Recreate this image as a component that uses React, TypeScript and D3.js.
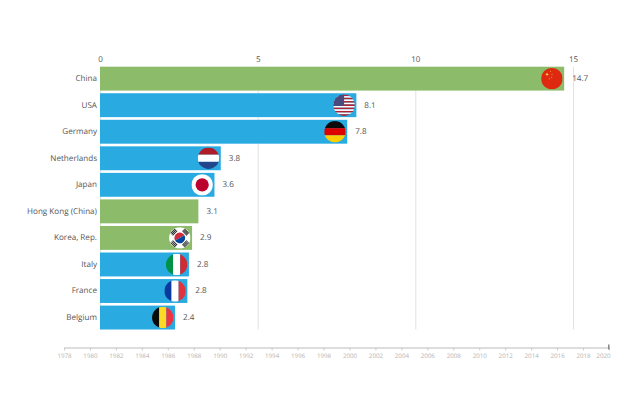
// App.tsx
import React, { useRef, useEffect } from 'react';
import * as d3 from 'd3';

const countries = ['China', 'USA', 'Germany', 'Netherlands', 'Japan', 'Hong Kong (China)', 'Korea, Rep.', 'Italy', 'France', 'Belgium'];
const values = [14.72, 8.13, 7.84, 3.83, 3.63, 3.12, 2.92, 2.82, 2.77, 2.38];
const valueLabels = ['14.7', '8.1', '7.8', '3.8', '3.6', '3.1', '2.9', '2.8', '2.8', '2.4'];
const asia = ['China', 'Hong Kong (China)', 'Korea, Rep.'];
const xTicks = [0, 5, 10, 15];
const years = d3.range(1978, 2021, 2);

const GREEN = '#8cbb69';
const BLUE = '#29abe2';
const TEXT = '#555';

// Plain striped flags, top to bottom or left to right
const hStripes: Record<string, string[]> = {
    Germany: ['#0b0b0b', '#dd0000', '#ffce00'],
    Netherlands: ['#ae1c28', '#ffffff', '#21468b'],
};
const vStripes: Record<string, string[]> = {
    Italy: ['#009246', '#ffffff', '#ce2b37'],
    France: ['#0a3a9e', '#ffffff', '#e1333f'],
    Belgium: ['#0b0b0b', '#fdda24', '#ef3340'],
};

const W = 640;
const H = 410;
const margin = { top: 66.7, right: 67, bottom: 80.5, left: 100 };
const R = 10.7;

function drawFlag(g: d3.Selection<SVGGElement, unknown, null, undefined>, name: string) {
    const unit = d3.scaleLinear().domain([0, 1]).range([-R, R]);
    const size = 2 * R;
    const rect = (x0: number, y0: number, x1: number, y1: number, fill: string) =>
        g.append('rect')
            .attr('x', unit(x0)).attr('y', unit(y0))
            .attr('width', (x1 - x0) * size).attr('height', (y1 - y0) * size)
            .attr('fill', fill);

    if (hStripes[name]) {
        hStripes[name].forEach((c, i) => rect(0, i / 3, 1, (i + 1) / 3, c));
    } else if (vStripes[name]) {
        vStripes[name].forEach((c, i) => rect(i / 3, 0, (i + 1) / 3, 1, c));
    } else if (name === 'China') {
        rect(0, 0, 1, 1, '#de2910');
        g.append('g').selectAll('circle')
            .data([[-0.45, -0.4, 1.2], [-0.12, -0.68, 0.5], [0.02, -0.42, 0.5], [-0.02, -0.12, 0.5], [-0.25, 0.02, 0.5]])
            .join('circle')
            .attr('cx', d => d[0] * R).attr('cy', d => d[1] * R).attr('r', d => d[2])
            .attr('fill', '#f6c83c');
    } else if (name === 'USA') {
        d3.range(13).forEach(i => rect(0, i / 13, 1, (i + 1) / 13, i % 2 ? '#ffffff' : '#b22234'));
        rect(0, 0, 0.5, 7 / 13, '#4a4a7c');
    } else if (name === 'Japan') {
        rect(0, 0, 1, 1, '#ffffff');
        g.append('circle').attr('r', R * 0.62).attr('fill', '#bc002d');
    } else if (name === 'Korea, Rep.') {
        rect(0, 0, 1, 1, '#ffffff');
        g.append('path')
            .attr('d', d3.arc()({ innerRadius: 0, outerRadius: R * 0.5, startAngle: -Math.PI / 2 - 0.5, endAngle: Math.PI / 2 - 0.5 }))
            .attr('fill', '#cd2e3a');
        g.append('path')
            .attr('d', d3.arc()({ innerRadius: 0, outerRadius: R * 0.5, startAngle: Math.PI / 2 - 0.5, endAngle: 1.5 * Math.PI - 0.5 }))
            .attr('fill', '#0047a0');
        // trigrams in the four corners
        [45, 135, 225, 315].forEach(a => {
            g.append('g').attr('transform', `rotate(${a})`)
                .selectAll('rect').data([0, 1, 2]).join('rect')
                .attr('x', -R * 0.3).attr('y', i => -R * 0.95 + i * R * 0.13)
                .attr('width', R * 0.6).attr('height', R * 0.09)
                .attr('fill', '#222');
        });
    }
}

function BarRace() {
    const svgRef = useRef<SVGSVGElement | null>(null);

    useEffect(() => {
        if (svgRef.current) d3.select(svgRef.current).selectAll('*').remove();
        const svg = d3.select(svgRef.current);

        const x = d3.scaleLinear().domain([0, 15]).range([margin.left, W - margin.right]);
        const y = d3.scaleBand().domain(countries).range([margin.top, H - margin.bottom]).paddingInner(0.1);
        const font = '"Open Sans", sans-serif';

        // Vertical grid lines and top axis
        const topAxis = svg.append('g')
            .attr('transform', `translate(0,${margin.top})`)
            .call(d3.axisTop(x).tickValues(xTicks).tickFormat(d3.format('d')).tickSize(-(H - margin.top - margin.bottom)).tickPadding(5))
            .call(g => g.select('.domain').remove());
        topAxis.selectAll('line').attr('stroke', '#e2e2e2');
        topAxis.selectAll('text').attr('fill', TEXT).attr('font-size', 8).attr('font-family', font);

        // Bars
        svg.append('g').selectAll('rect')
            .data(countries)
            .join('rect')
            .attr('x', x(0))
            .attr('y', d => y(d)!)
            .attr('width', (_, i) => x(values[i]) - x(0))
            .attr('height', y.bandwidth())
            .attr('fill', d => asia.includes(d) ? GREEN : BLUE);

        // Country names
        svg.append('g').selectAll('text')
            .data(countries)
            .join('text')
            .attr('x', x(0) - 3)
            .attr('y', d => y(d)! + y.bandwidth() / 2)
            .attr('dy', '0.3em')
            .attr('text-anchor', 'end')
            .attr('fill', TEXT)
            .attr('font-size', 8.1)
            .attr('font-family', font)
            .text(d => d);

        // Value labels
        svg.append('g').selectAll('text')
            .data(countries)
            .join('text')
            .attr('x', (_, i) => x(values[i]) + 8)
            .attr('y', d => y(d)! + y.bandwidth() / 2)
            .attr('dy', '0.3em')
            .attr('fill', TEXT)
            .attr('font-size', 8.1)
            .attr('font-family', font)
            .text((_, i) => valueLabels[i]);

        // Round flags at the bar ends
        const defs = svg.append('defs');
        defs.append('clipPath').attr('id', 'flag-clip').append('circle').attr('r', R);
        countries.forEach((name, i) => {
            if (name === 'Hong Kong (China)') return;
            const g = svg.append('g')
                .attr('transform', `translate(${x(values[i]) - 12.3},${y(name)! + y.bandwidth() / 2})`)
                .append('g')
                .attr('clip-path', 'url(#flag-clip)') as d3.Selection<SVGGElement, unknown, null, undefined>;
            drawFlag(g, name);
        });

        // Timeline slider
        const t = d3.scaleLinear().domain([1978, 2020]).range([64, 609]);
        const axisY = 347.5;
        const timeline = svg.append('g')
            .attr('transform', `translate(0,${axisY})`)
            .call(d3.axisBottom(t).tickValues(years).tickFormat(d3.format('d')).tickSize(3).tickSizeOuter(0).tickPadding(3));
        timeline.select('.domain').attr('stroke', '#bbb');
        timeline.selectAll('line').attr('stroke', '#ccc');
        timeline.selectAll('text')
            .attr('fill', '#b5b5b5')
            .attr('font-size', 6.2)
            .attr('font-family', font);
        timeline.selectAll<SVGGElement, number>('.tick')
            .filter(d => d === 2020)
            .select('text')
            .attr('text-anchor', 'end')
            .attr('dx', 1);
        svg.append('rect')
            .attr('x', t(2020) - 1).attr('y', axisY - 3)
            .attr('width', 1.5).attr('height', 5)
            .attr('fill', '#888');
    }, []);

    return <svg ref={svgRef} width={W} height={H} style={{ position: 'absolute', left: 0, top: 0, background: '#fff', textRendering: 'geometricPrecision' }}></svg>;
}

export default function App() {
    return <BarRace />;
}
